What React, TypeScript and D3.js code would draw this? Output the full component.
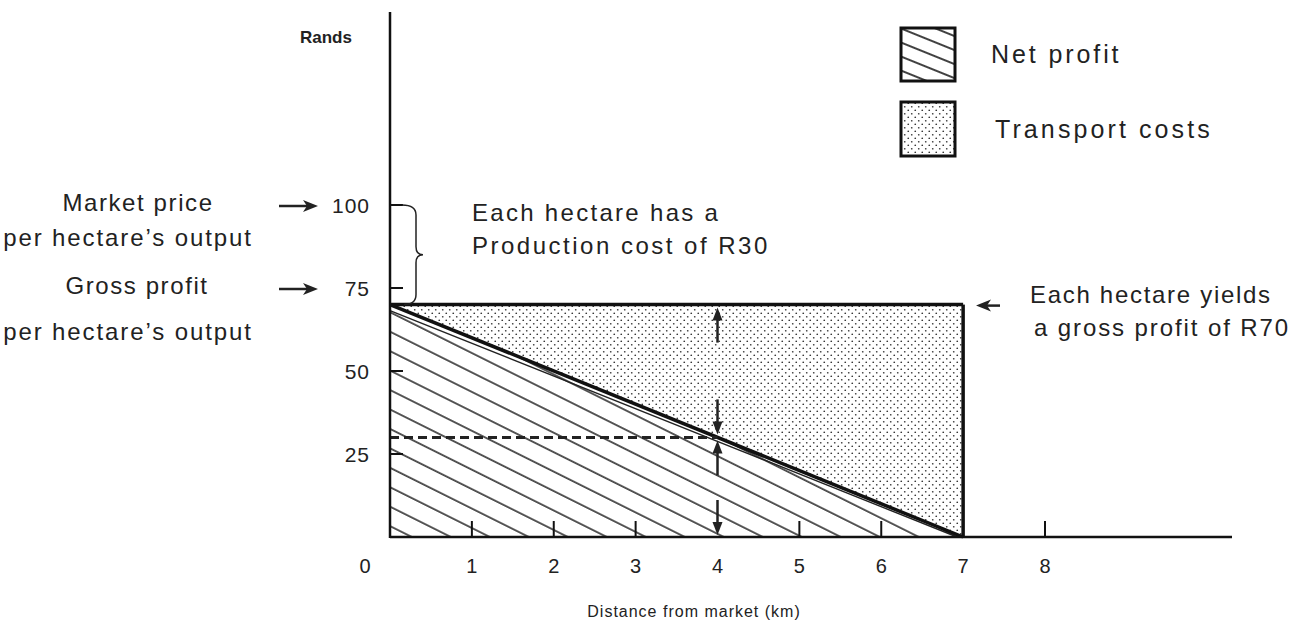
import React from "react";
import * as d3 from "d3";

// ---- data ----
const xTicks = [0, 1, 2, 3, 4, 5, 6, 7, 8];
const yTicks = [25, 50, 75, 100];
const marketPrice = 100;
const grossProfit = 70;
const productionCost = 30;
const maxDistance = 7; // km where net profit reaches 0
const profitDistance = [0, 7];
const netProfitValues = [70, 0];
const sampleDistance = 4;
const sampleNetProfit = 30;
const legendLabels = ["Net profit", "Transport costs"];

const W = 1313;
const H = 634;
const FONT = "'Liberation Sans', Arial, Helvetica, sans-serif";

export default function App() {
  const x = d3.scaleLinear().domain([0, 8]).range([390, 1045]);
  const y = d3.scaleLinear().domain([0, 100]).range([537, 205]);

  const netLine = d3
    .line<number>()
    .x((_, i) => x(profitDistance[i]))
    .y((d) => y(d));

  const hatchTri = `M${x(0)},${y(grossProfit)} L${x(0)},${y(0)} L${x(maxDistance)},${y(0)} Z`;
  const dotTri = `M${x(0)},${y(grossProfit)} L${x(maxDistance)},${y(grossProfit)} L${x(maxDistance)},${y(0)} Z`;

  const ax = x(sampleDistance);
  const arrowUp = (tipY: number, tailY: number) => (
    <g>
      <line x1={ax} x2={ax} y1={tipY + 8} y2={tailY} stroke="#222" strokeWidth={2.5} />
      <path d={`M${ax},${tipY} L${ax - 5},${tipY + 13} L${ax + 5},${tipY + 13} Z`} fill="#222" />
    </g>
  );
  const arrowDown = (tipY: number, tailY: number) => (
    <g>
      <line x1={ax} x2={ax} y1={tipY - 8} y2={tailY} stroke="#222" strokeWidth={2.5} />
      <path d={`M${ax},${tipY} L${ax - 5},${tipY - 13} L${ax + 5},${tipY - 13} Z`} fill="#222" />
    </g>
  );
  const rightArrow = (x1: number, x2: number, yy: number) => (
    <g>
      <line x1={x1} x2={x2 - 8} y1={yy} y2={yy} stroke="#222" strokeWidth={2.5} />
      <path d={`M${x2},${yy} L${x2 - 15},${yy - 6} L${x2 - 11},${yy} L${x2 - 15},${yy + 6} Z`} fill="#222" />
    </g>
  );
  const leftArrow = (x1: number, x2: number, yy: number) => (
    <g>
      <line x1={x1 + 8} x2={x2} y1={yy} y2={yy} stroke="#222" strokeWidth={2.5} />
      <path d={`M${x1},${yy} L${x1 + 15},${yy - 6} L${x1 + 11},${yy} L${x1 + 15},${yy + 6} Z`} fill="#222" />
    </g>
  );

  const y100 = y(marketPrice);
  const y70 = y(grossProfit);
  const bx = 416;
  const braceMid = (y100 + y70) / 2;
  const brace = `M${x(0) + 12},${y100} Q${bx},${y100} ${bx},${y100 + 10} L${bx},${braceMid - 8} Q${bx},${braceMid} ${bx + 7},${braceMid} Q${bx},${braceMid} ${bx},${braceMid + 8} L${bx},${y70 - 10} Q${bx},${y70} ${x(0) + 14},${y70}`;

  const txt = { fill: "#222", fontSize: 24 };

  return (
    <svg width={W} height={H} style={{ position: "absolute", left: 0, top: 0, background: "#fff" }} fontFamily={FONT}>
      <defs>
        <pattern id="hatch" patternUnits="userSpaceOnUse" width={20} height={17.4} patternTransform="rotate(26.5)">
          <line x1={0} x2={20} y1={1} y2={1} stroke="#111" strokeWidth={1.4} />
        </pattern>
        <pattern id="hatchLegend" patternUnits="userSpaceOnUse" width={20} height={13} patternTransform="translate(900,27) rotate(22)">
          <line x1={0} x2={20} y1={1} y2={1} stroke="#111" strokeWidth={1.6} />
        </pattern>
        <pattern id="dots" patternUnits="userSpaceOnUse" width={7} height={7}>
          <circle cx={1.75} cy={1.75} r={0.85} fill="#333" />
          <circle cx={5.25} cy={5.25} r={0.85} fill="#333" />
        </pattern>
      </defs>

      {/* areas */}
      <path d={hatchTri} fill="url(#hatch)" />
      <path d={dotTri} fill="url(#dots)" />

      {/* thin inner line below net profit line */}
      <line x1={x(0)} y1={y(grossProfit) + 6} x2={x(maxDistance) - 6} y2={y(0)} stroke="#222" strokeWidth={1.4} />
      {/* net profit line */}
      <path d={netLine(netProfitValues) || ""} fill="none" stroke="#111" strokeWidth={3.5} />

      {/* rectangle top & right */}
      <line x1={x(0)} x2={x(maxDistance)} y1={y70} y2={y70} stroke="#111" strokeWidth={3.5} />
      <line x1={x(maxDistance)} x2={x(maxDistance)} y1={y70} y2={y(0)} stroke="#111" strokeWidth={3.5} />

      {/* dashed */}
      <line x1={x(0)} x2={ax} y1={y(sampleNetProfit)} y2={y(sampleNetProfit)} stroke="#222" strokeWidth={3} strokeDasharray="9,5" />

      {/* arrows at x=4 */}
      {arrowUp(y70 + 3, y70 + 38)}
      {arrowDown(y(sampleNetProfit) - 3, y(sampleNetProfit) - 38)}
      {arrowUp(y(sampleNetProfit) + 3, y(sampleNetProfit) + 38)}
      {arrowDown(y(0) - 2, y(0) - 37)}

      {/* axes */}
      <line x1={x(0)} x2={x(0)} y1={12} y2={y(0) + 1} stroke="#111" strokeWidth={2.5} />
      <line x1={x(0)} x2={1232} y1={y(0)} y2={y(0)} stroke="#111" strokeWidth={2.5} />
      {yTicks.map((t) => (
        <g key={t}>
          <line x1={x(0)} x2={x(0) + 13} y1={y(t)} y2={y(t)} stroke="#111" strokeWidth={2} />
          <text x={370} y={y(t) + 8} fontSize={21} letterSpacing={1} textAnchor="end" fill="#222">{t}</text>
        </g>
      ))}
      {xTicks.map((t) => (
        <g key={t}>
          {t > 0 && t !== sampleDistance && t !== maxDistance && (
            <line x1={x(t)} x2={x(t)} y1={y(0)} y2={y(0) - 16} stroke="#111" strokeWidth={2} />
          )}
          <text x={t === 0 ? 365 : x(t)} y={573} fontSize={20} textAnchor="middle" fill="#222">{t}</text>
        </g>
      ))}

      {/* brace */}
      <path d={brace} fill="none" stroke="#222" strokeWidth={1.5} />

      {/* axis titles */}
      <text x={300} y={43} fontSize={17} fontWeight="bold" fill="#222">Rands</text>
      <text x={694} y={617} fontSize={16} textAnchor="middle" fill="#222" letterSpacing={1}>Distance from market (km)</text>

      {/* left labels */}
      {rightArrow(279, 318, y100 + 1)}
      {rightArrow(279, 318, y(75) + 1)}
      <text x={138} y={211} textAnchor="middle" letterSpacing={1.6} {...txt}>Market price</text>
      <text x={128} y={246} textAnchor="middle" letterSpacing={1.9} {...txt}>per hectare’s output</text>
      <text x={137} y={294} textAnchor="middle" letterSpacing={1.6} {...txt}>Gross profit</text>
      <text x={128} y={340} textAnchor="middle" letterSpacing={1.9} {...txt}>per hectare’s output</text>

      {/* annotations */}
      <text x={472} y={221} letterSpacing={2.3} {...txt}>Each hectare has a</text>
      <text x={472} y={254} letterSpacing={2.5} {...txt}>Production cost of R{productionCost}</text>
      {leftArrow(976, 1000, y70 + 1)}
      <text x={1030} y={303} letterSpacing={1.7} {...txt}>Each hectare yields</text>
      <text x={1034} y={336} letterSpacing={1.9} {...txt}>a gross profit of R{grossProfit}</text>

      {/* legend */}
      <rect x={901} y={28} width={54} height={53} fill="url(#hatchLegend)" stroke="#111" strokeWidth={3} />
      <rect x={901} y={102} width={54} height={54} fill="url(#dots)" stroke="#111" strokeWidth={3} />
      <text x={991} y={63} fontSize={25} letterSpacing={2.9} fill="#222">{legendLabels[0]}</text>
      <text x={995} y={138} fontSize={25} letterSpacing={3.1} fill="#222">{legendLabels[1]}</text>
    </svg>
  );
}
